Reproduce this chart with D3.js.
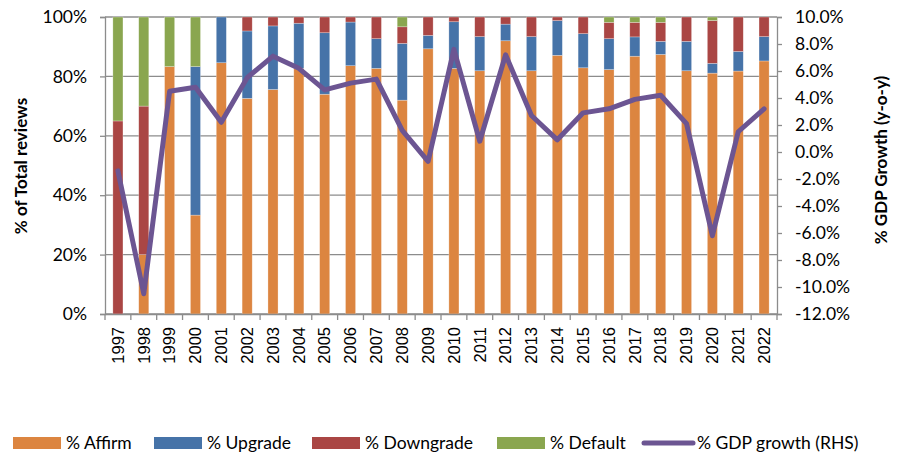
<!DOCTYPE html>
<html>
<head>
<meta charset="utf-8">
<script src="https://cdn.jsdelivr.net/npm/d3@7"></script>
<style>
  body { margin: 0; background: #fff; }
  svg text { font-family: Lato, "Open Sans", sans-serif; fill: #000; }
</style>
</head>
<body>
<div id="chart"></div>
<script>
'use strict';

var years = ['1997','1998','1999','2000','2001','2002','2003','2004','2005','2006','2007','2008','2009',
  '2010','2011','2012','2013','2014','2015','2016','2017','2018','2019','2020','2021','2022'];
var affirm = [0,20,83.3,33.3,84.6,72.6,75.6,82.7,74,83.6,82.7,72,89.3,82.7,81.9,92,81.9,87.1,82.9,82.3,86.8,87.4,81.9,81.1,81.8,85.2];
var upgrade = [0,0,0,50,15.4,22.7,21.4,15.2,20.7,14.7,10,19.1,4.5,15.7,11.5,5.6,11.5,11.7,11.5,10.4,6.5,4.4,9.9,3.3,6.6,8.2];
var downgrade = [65,50,0,0,0,4.7,3,2.1,5.3,1.7,7.3,5.6,6.2,1.6,6.6,2.4,6.6,1.2,5.6,5.5,4.9,6.4,8.2,14.4,11.6,6.6];
var defaults = [35,30,16.7,16.7,0,0,0,0,0,0,0,3.3,0,0,0,0,0,0,0,1.8,1.8,1.8,0,1.2,0,0];
var gdp = [-1.4,-10.5,4.5,4.8,2.2,5.5,7.1,6.2,4.6,5.1,5.4,1.6,-0.7,7.6,0.8,7.2,2.7,0.9,2.9,3.2,3.9,4.2,2.1,-6.2,1.5,3.2];

var leftTicks = [0,20,40,60,80,100];
var rightTicks = [-12,-10,-8,-6,-4,-2,0,2,4,6,8,10];

var seriesNames = ['% Affirm','% Upgrade','% Downgrade','% Default'];
var seriesColors = ['#DC8540','#4673A8','#AA4644','#8AA64F'];
var lineColor = '#6C5592';

var width = 897, height = 454,
  plotLeft = 105, plotRight = 777, plotTop = 17, plotBottom = 314;

var rows = years.map(function(y, i) {
  return { year: y, a: affirm[i], u: upgrade[i], d: downgrade[i], f: defaults[i] };
});

var svg = d3.select('#chart').append('svg').attr('width', width).attr('height', height);

var x = d3.scaleBand().domain(years).range([plotLeft, plotRight]).padding(0);
var yL = d3.scaleLinear().domain([0, 100]).range([plotBottom, plotTop]);
var yR = d3.scaleLinear().domain([-12, 10]).range([plotBottom, plotTop]);
var barW = x.bandwidth() * 0.39;

// gridlines
svg.append('g').selectAll('line').data(leftTicks).enter().append('line')
  .attr('x1', plotLeft).attr('x2', plotRight)
  .attr('y1', function(d) { return yL(d); }).attr('y2', function(d) { return yL(d); })
  .attr('stroke', '#8c8c8c').attr('stroke-width', 1.3);

// stacked bars
var stack = d3.stack().keys(['a','u','d','f']);
var layers = stack(rows);

svg.append('g').selectAll('g').data(layers).enter().append('g')
  .attr('fill', function(d, i) { return seriesColors[i]; })
  .selectAll('rect').data(function(d) { return d; }).enter().append('rect')
  .filter(function(d) { return d[1] - d[0] > 0; })
  .attr('x', function(d) { return x(d.data.year) + (x.bandwidth() - barW) / 2; })
  .attr('width', barW)
  .attr('y', function(d) { return yL(d[1]); })
  .attr('height', function(d) { return yL(d[0]) - yL(d[1]); })
  .attr('stroke', 'rgba(255,255,255,0.45)').attr('stroke-width', 0.6);

// axes
var axisL = svg.append('g').attr('transform', 'translate(' + plotLeft + ',0)')
  .call(d3.axisLeft(yL).tickValues(leftTicks).tickSize(5).tickPadding(13)
    .tickFormat(function(d) { return d + '%'; }));
var axisR = svg.append('g').attr('transform', 'translate(' + plotRight + ',0)')
  .call(d3.axisRight(yR).tickValues(rightTicks).tickSize(5).tickPadding(13)
    .tickFormat(function(d) { return d.toFixed(1) + '%'; }));
var axisB = svg.append('g').attr('transform', 'translate(0,' + plotBottom + ')')
  .call(d3.axisBottom(x).tickSize(0).tickFormat(''));

[axisL, axisR, axisB].forEach(function(g) {
  g.select('.domain').attr('stroke', '#8c8c8c').attr('stroke-width', 1.3);
  g.selectAll('.tick line').attr('stroke', '#8c8c8c').attr('stroke-width', 1.3);
  g.selectAll('.tick text').style('font-size', '17.5px').style('font-family', 'Lato, sans-serif');
});

// category boundary ticks
svg.append('g').selectAll('line').data(years.concat(['end'])).enter().append('line')
  .attr('x1', function(d, i) { return plotLeft + i * x.step(); })
  .attr('x2', function(d, i) { return plotLeft + i * x.step(); })
  .attr('y1', plotBottom).attr('y2', plotBottom + 6)
  .attr('stroke', '#8c8c8c').attr('stroke-width', 1.3);

// year labels
svg.append('g').selectAll('text').data(years).enter().append('text')
  .attr('transform', function(d) {
    return 'translate(' + (x(d) + x.bandwidth() / 2) + ',' + (plotBottom + 13) + ') rotate(-90)';
  })
  .attr('text-anchor', 'end').attr('dy', '0.35em')
  .style('font-family', '"Liberation Sans", Arial, sans-serif').style('font-size', '16.5px')
  .text(function(d) { return d; });

// gdp line
var line = d3.line()
  .x(function(d, i) { return x(years[i]) + x.bandwidth() / 2; })
  .y(function(d) { return yR(d); });

svg.append('path').datum(gdp).attr('d', line)
  .attr('fill', 'none').attr('stroke', lineColor).attr('stroke-width', 5)
  .attr('stroke-linejoin', 'round').attr('stroke-linecap', 'round');

// axis titles
svg.append('text').attr('transform', 'translate(21,166) rotate(-90)')
  .attr('text-anchor', 'middle').attr('dy', '0.35em')
  .style('font-size', '17px').style('font-weight', 'bold')
  .text('% of Total reviews');
svg.append('text').attr('transform', 'translate(881,160) rotate(-90)')
  .attr('text-anchor', 'middle').attr('dy', '0.35em')
  .style('font-size', '17px').style('font-weight', 'bold')
  .text('% GDP Growth (y-o-y)');

// legend
var legendX = [13, 154, 312, 497];
var legend = svg.append('g').attr('transform', 'translate(0,443)');
seriesNames.forEach(function(name, i) {
  legend.append('rect').attr('x', legendX[i]).attr('y', -6).attr('width', 48).attr('height', 12)
    .attr('fill', seriesColors[i]);
  legend.append('text').attr('x', legendX[i] + 53).attr('dy', '0.35em')
    .style('font-size', '17.5px').text(name);
});
legend.append('line').attr('x1', 644).attr('x2', 693).attr('y1', 0).attr('y2', 0)
  .attr('stroke', lineColor).attr('stroke-width', 5).attr('stroke-linecap', 'round');
legend.append('text').attr('x', 697).attr('dy', '0.35em')
  .style('font-size', '17.5px').text('% GDP growth (RHS)');
</script>
</body>
</html>
